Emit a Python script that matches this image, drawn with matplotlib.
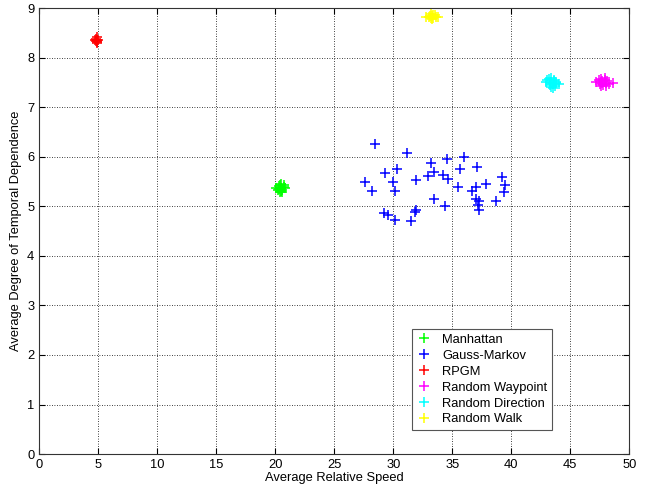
import matplotlib
matplotlib.use('Agg')
import matplotlib.pyplot as plt

plt.rcParams['font.family'] = ['Liberation Sans', 'DejaVu Sans']

# Manhattan cluster
man_x = [20.1, 20.2, 20.3, 20.4, 20.5, 20.5, 20.6, 20.7, 20.8, 20.4, 20.6, 20.3, 20.5, 20.7]
man_y = [5.37, 5.33, 5.41, 5.30, 5.38, 5.45, 5.34, 5.40, 5.37, 5.43, 5.29, 5.35, 5.32, 5.44]

# Gauss-Markov scatter
gm_x = [28.45, 31.19, 33.17, 34.55, 36.02, 37.07, 29.27, 30.34, 33.45, 32.92,
        34.24, 34.61, 35.63, 27.58, 29.95, 31.90, 28.17, 30.17, 35.46, 37.01,
        36.67, 37.86, 39.21, 39.44, 39.36, 38.70, 33.47, 34.41, 36.98, 37.29,
        37.15, 37.24, 29.24, 29.58, 30.14, 31.90, 31.81, 31.47]
gm_y = [6.26, 6.07, 5.87, 5.95, 5.99, 5.80, 5.67, 5.76, 5.70, 5.62,
        5.64, 5.55, 5.76, 5.50, 5.50, 5.54, 5.31, 5.32, 5.40, 5.40,
        5.31, 5.45, 5.60, 5.43, 5.29, 5.11, 5.15, 5.01, 5.14, 5.10,
        5.03, 4.92, 4.87, 4.83, 4.72, 4.93, 4.89, 4.71]

# RPGM cluster
rpgm_x = [4.75, 4.8, 4.85, 4.9, 4.95, 4.85, 4.85, 4.8, 4.9]
rpgm_y = [8.36, 8.34, 8.37, 8.35, 8.36, 8.30, 8.42, 8.39, 8.33]

# Random Waypoint cluster
rwp_x = [47.2, 47.4, 47.5, 47.6, 47.7, 47.8, 47.9, 48.0, 48.1, 48.3, 48.6, 47.6, 47.9, 47.7, 48.0]
rwp_y = [7.52, 7.55, 7.48, 7.58, 7.50, 7.45, 7.56, 7.49, 7.53, 7.47, 7.49, 7.44, 7.60, 7.53, 7.43]

# Random Direction cluster
rd_x = [42.9, 43.0, 43.2, 43.3, 43.4, 43.5, 43.6, 43.7, 43.8, 44.0, 43.4, 43.6, 43.3, 43.8, 43.5]
rd_y = [7.52, 7.55, 7.58, 7.50, 7.60, 7.47, 7.53, 7.44, 7.49, 7.48, 7.42, 7.56, 7.46, 7.52, 7.39]

# Random Walk cluster
rw_x = [32.8, 33.0, 33.1, 33.2, 33.3, 33.4, 33.5, 33.6, 33.8, 33.3, 33.2, 33.4]
rw_y = [8.83, 8.82, 8.85, 8.80, 8.84, 8.81, 8.86, 8.82, 8.83, 8.78, 8.88, 8.86]

series = [
    ('Manhattan', man_x, man_y, (0, 1, 0)),
    ('Gauss-Markov', gm_x, gm_y, (0, 0, 1)),
    ('RPGM', rpgm_x, rpgm_y, (1, 0, 0)),
    ('Random Waypoint', rwp_x, rwp_y, (1, 0, 1)),
    ('Random Direction', rd_x, rd_y, (0, 1, 1)),
    ('Random Walk', rw_x, rw_y, (1, 1, 0)),
]

fig = plt.figure(figsize=(6.47, 4.86), dpi=100)
ax = fig.add_axes([0.0607, 0.0658, 0.912, 0.917])

for name, xs, ys, c in series:
    ax.plot(xs, ys, linestyle='none', marker='+', markersize=7.5,
            markeredgewidth=1.1, color=c, label=name)

ax.set_xlim(0, 50)
ax.set_ylim(0, 9)
ax.set_xticks(range(0, 51, 5))
ax.set_yticks(range(0, 10))
ax.grid(True, color='black', linestyle=(0, (1, 2)), linewidth=0.6)
ax.tick_params(direction='in', labelsize=9.3, length=4, top=True, right=True)
for s in ax.spines.values():
    s.set_linewidth(0.8)
    s.set_color('#333333')

ax.set_xlabel('Average Relative Speed', fontsize=9.3, labelpad=1)
ax.set_ylabel('Average Degree of Temporal Dependence', fontsize=9.3, labelpad=4)

leg = ax.legend(loc='lower left', bbox_to_anchor=(0.631, 0.054), fontsize=9.3,
                fancybox=False, framealpha=1, edgecolor='#555555',
                handlelength=1.2, handletextpad=0.8, borderpad=0.35,
                labelspacing=0.3, borderaxespad=0)
leg.get_frame().set_linewidth(0.8)

fig.savefig('out.png', dpi=100)
